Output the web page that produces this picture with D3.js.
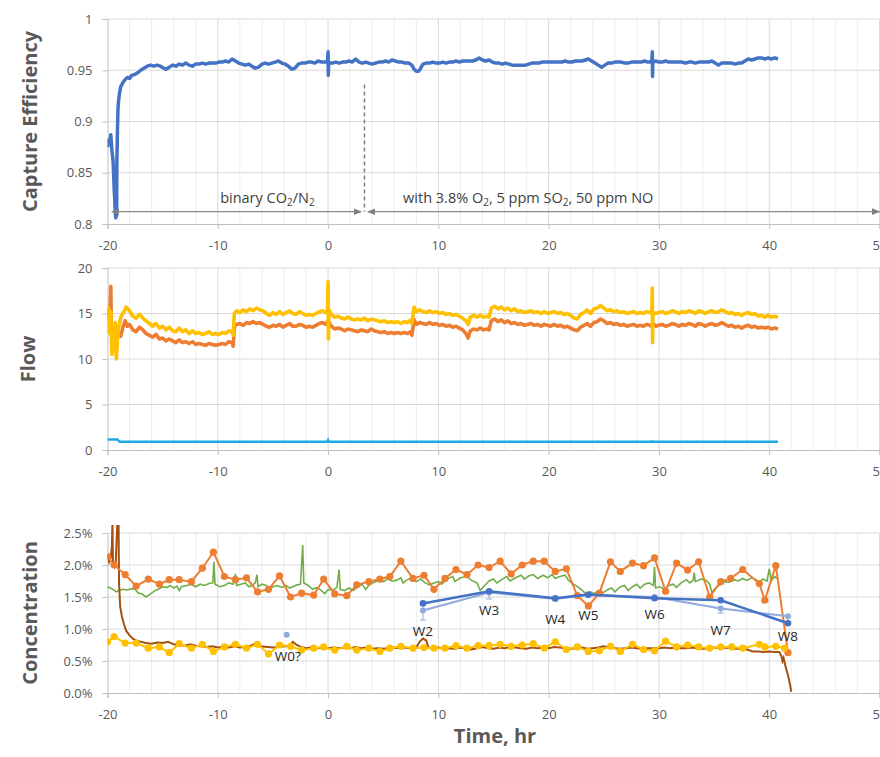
<!DOCTYPE html>
<html><head><meta charset="utf-8">
<script src="https://cdn.jsdelivr.net/npm/d3@7"></script>
<style>
html,body{margin:0;padding:0;background:#fff;}
text{font-family:"Open Sans","Noto Sans",sans-serif;}
</style></head>
<body>
<svg id="chart" width="880" height="757"></svg>
<script>
// ---------------- DATA ----------------
const xTicks = [-20, -10, 0, 10, 20, 30, 40, 50];
const ceTicks = [0.8, 0.85, 0.9, 0.95, 1];
const flowTicks = [0, 5, 10, 15, 20];
const concTicks = [0, 0.005, 0.01, 0.015, 0.02, 0.025];

// Capture efficiency [time hr, value]
const captureEff = [[-20,0.875],[-19.9,0.882],[-19.8,0.878],[-19.7,0.887],[-19.6,0.872],[-19.5,0.862],[-19.45,0.85],[-19.4,0.835],[-19.35,0.826],[-19.3,0.812],[-19.25,0.806],[-19.2,0.82],[-19.17,0.808],[-19.15,0.86],[-19.1,0.89],[-19.05,0.912],[-19.0,0.92],[-18.9,0.928],[-18.8,0.934],[-18.6,0.938],[-18.4,0.941],[-18.2,0.943],[-18,0.942],[-17.8,0.945],[-17.5,0.946],[-17.2,0.948],[-17,0.950],[-16.7,0.952],[-16.4,0.954],[-16.1,0.955],[-15.8,0.954],[-15.5,0.955],[-15.2,0.954],[-14.9,0.952],[-14.7,0.951],[-14.4,0.953],[-14.1,0.955],[-13.8,0.954],[-13.5,0.956],[-13.2,0.955],[-12.9,0.957],[-12.6,0.955],[-12.3,0.954],[-12,0.956],[-11.7,0.956],[-11.4,0.957],[-11.1,0.956],[-10.8,0.957],[-10.5,0.957],[-10.2,0.957],[-9.9,0.958],[-9.6,0.958],[-9.3,0.959],[-9.0,0.958],[-8.7,0.961],[-8.4,0.959],[-8.1,0.957],[-7.8,0.956],[-7.5,0.955],[-7.2,0.956],[-6.9,0.954],[-6.6,0.952],[-6.3,0.953],[-6.0,0.956],[-5.7,0.957],[-5.4,0.956],[-5.1,0.957],[-4.8,0.958],[-4.5,0.959],[-4.2,0.957],[-3.9,0.956],[-3.6,0.954],[-3.3,0.951],[-3.0,0.952],[-2.7,0.956],[-2.4,0.957],[-2.1,0.957],[-1.8,0.958],[-1.5,0.958],[-1.2,0.957],[-0.9,0.959],[-0.6,0.958],[-0.3,0.958],[-0.05,0.958],[0,0.968],[0.02,0.945],[0.05,0.957],[0.4,0.957],[0.7,0.958],[1.0,0.957],[1.3,0.958],[1.6,0.958],[1.9,0.959],[2.2,0.958],[2.5,0.961],[2.8,0.958],[3.1,0.957],[3.4,0.958],[3.7,0.957],[4.0,0.956],[4.3,0.957],[4.6,0.958],[4.9,0.958],[5.2,0.959],[5.5,0.958],[5.8,0.960],[6.1,0.959],[6.4,0.958],[6.7,0.958],[7.0,0.957],[7.3,0.957],[7.6,0.955],[7.8,0.951],[8.0,0.949],[8.2,0.949],[8.4,0.952],[8.6,0.956],[8.9,0.957],[9.2,0.957],[9.5,0.958],[9.8,0.957],[10.1,0.957],[10.4,0.958],[10.7,0.957],[11.0,0.958],[11.3,0.958],[11.6,0.959],[11.9,0.958],[12.2,0.959],[12.5,0.959],[12.8,0.959],[13.1,0.959],[13.4,0.960],[13.7,0.962],[14.0,0.960],[14.3,0.959],[14.6,0.960],[14.9,0.958],[15.2,0.957],[15.5,0.957],[15.8,0.956],[16.1,0.957],[16.4,0.956],[16.7,0.955],[17.0,0.955],[17.3,0.955],[17.6,0.955],[17.9,0.955],[18.2,0.956],[18.5,0.957],[18.8,0.957],[19.1,0.957],[19.4,0.958],[19.7,0.958],[20.0,0.958],[20.3,0.958],[20.6,0.958],[20.9,0.958],[21.2,0.958],[21.5,0.959],[21.8,0.958],[22.1,0.958],[22.4,0.959],[22.7,0.959],[23.0,0.959],[23.3,0.960],[23.6,0.961],[23.9,0.959],[24.2,0.957],[24.5,0.955],[24.8,0.953],[25.1,0.955],[25.4,0.957],[25.7,0.957],[26.0,0.958],[26.3,0.958],[26.6,0.958],[26.9,0.957],[27.2,0.957],[27.5,0.958],[27.8,0.958],[28.1,0.958],[28.4,0.958],[28.7,0.959],[29.0,0.958],[29.35,0.958],[29.4,0.968],[29.42,0.944],[29.45,0.958],[29.7,0.959],[30.0,0.958],[30.3,0.958],[30.6,0.959],[30.9,0.958],[31.2,0.958],[31.5,0.958],[31.8,0.958],[32.1,0.958],[32.4,0.957],[32.7,0.958],[33.0,0.958],[33.3,0.957],[33.6,0.958],[33.9,0.958],[34.2,0.958],[34.5,0.958],[34.8,0.959],[35.1,0.957],[35.4,0.955],[35.7,0.957],[36.0,0.957],[36.3,0.957],[36.6,0.957],[36.9,0.956],[37.2,0.957],[37.5,0.957],[37.8,0.959],[38.1,0.961],[38.4,0.960],[38.7,0.961],[39.0,0.962],[39.3,0.962],[39.6,0.961],[39.9,0.962],[40.2,0.961],[40.5,0.962],[40.8,0.961]];

// Flow series
const flowOrange = [[-20,14.5],[-19.9,15.5],[-19.8,14.2],[-19.7,18.0],[-19.65,13],[-19.5,12.5],[-19.3,13.5],[-19.2,11.8],[-19.0,13.0],[-18.8,12.5],[-18.6,13.5],[-18.4,14.2],[-18.2,13.6],[-18.0,13.8],[-17.7,13.2],[-17.4,13.0],[-17.1,13.5],[-16.8,13.2],[-16.5,12.8],[-16.2,12.6],[-15.9,12.4],[-15.6,12.7],[-15.3,12.2],[-15.0,12.3],[-14.7,12.0],[-14.4,12.2],[-14.1,12.0],[-13.8,11.8],[-13.5,12.1],[-13.2,11.8],[-12.9,11.9],[-12.6,11.7],[-12.3,11.9],[-12.0,11.6],[-11.7,11.7],[-11.4,11.6],[-11.1,11.5],[-10.8,11.7],[-10.5,11.6],[-10.2,11.5],[-9.9,11.6],[-9.6,11.7],[-9.3,11.6],[-9.0,11.9],[-8.7,11.8],[-8.6,11.4],[-8.5,13.5],[-8.3,13.8],[-8.0,13.9],[-7.7,13.7],[-7.4,14.0],[-7.1,13.9],[-6.8,14.1],[-6.5,13.9],[-6.2,14.0],[-5.9,13.8],[-5.6,13.6],[-5.3,13.5],[-5.0,13.7],[-4.7,13.6],[-4.4,13.8],[-4.1,13.5],[-3.8,13.7],[-3.5,13.9],[-3.2,13.6],[-2.9,13.6],[-2.6,13.8],[-2.3,13.7],[-2.0,13.5],[-1.7,13.6],[-1.4,13.5],[-1.1,13.7],[-0.8,13.9],[-0.5,14.0],[-0.2,13.8],[0,14.2],[0.3,13.6],[0.6,13.3],[0.9,13.4],[1.2,13.3],[1.5,13.1],[1.8,13.3],[2.1,13.2],[2.4,13.1],[2.7,13.0],[3.0,13.2],[3.3,13.1],[3.6,13.0],[3.9,13.3],[4.2,13.1],[4.5,13.0],[4.8,12.9],[5.1,13.0],[5.4,12.8],[5.7,12.9],[6.0,12.8],[6.3,12.9],[6.6,12.8],[6.9,12.9],[7.2,12.8],[7.5,13.0],[7.6,12.6],[7.8,14.3],[8.0,13.8],[8.3,14.0],[8.6,13.9],[8.9,13.8],[9.2,14.0],[9.5,13.8],[9.8,13.9],[10.1,13.7],[10.4,13.8],[10.7,13.6],[11.0,13.7],[11.3,13.5],[11.6,13.6],[11.9,13.4],[12.2,13.2],[12.5,12.8],[12.7,12.3],[12.9,13.1],[13.2,13.3],[13.5,13.2],[13.8,13.4],[14.1,13.2],[14.4,13.3],[14.6,13.2],[14.8,14.2],[15.1,14.4],[15.4,14.1],[15.7,14.3],[16.0,14.0],[16.3,14.2],[16.6,13.9],[16.9,14.0],[17.2,13.8],[17.5,13.9],[17.8,13.7],[18.1,13.8],[18.4,13.9],[18.7,13.7],[19.0,13.8],[19.3,13.6],[19.6,13.8],[19.9,13.7],[20.2,13.6],[20.5,13.8],[20.8,13.6],[21.1,13.7],[21.4,13.5],[21.7,13.6],[22.0,13.4],[22.3,13.2],[22.6,13.1],[22.9,13.5],[23.2,13.7],[23.5,13.9],[23.8,13.6],[24.1,14.0],[24.4,14.1],[24.7,14.4],[25.0,14.2],[25.3,13.9],[25.6,14.0],[25.9,13.8],[26.2,13.9],[26.5,13.7],[26.8,13.8],[27.1,13.6],[27.4,13.7],[27.7,13.8],[28.0,13.6],[28.3,13.7],[28.6,13.6],[28.9,13.8],[29.2,13.7],[29.4,13.5],[29.5,13.9],[29.7,13.6],[30.0,13.7],[30.3,13.8],[30.6,13.6],[30.9,13.7],[31.2,13.9],[31.5,13.8],[31.8,13.6],[32.1,13.8],[32.4,13.7],[32.7,13.9],[33.0,13.8],[33.3,13.6],[33.6,13.9],[33.9,13.8],[34.2,13.6],[34.5,13.8],[34.8,13.9],[35.1,13.7],[35.4,13.8],[35.7,14.0],[36.0,13.8],[36.3,13.6],[36.6,13.7],[36.9,13.5],[37.2,13.6],[37.5,13.4],[37.8,13.6],[38.1,13.7],[38.4,13.5],[38.7,13.6],[39.0,13.4],[39.3,13.5],[39.6,13.4],[39.9,13.5],[40.2,13.3],[40.5,13.4],[40.8,13.3]];

const flowYellow = [[-20,13.0],[-19.9,15.6],[-19.8,12.8],[-19.7,15.2],[-19.6,10.5],[-19.5,12.2],[-19.4,11.0],[-19.3,14.0],[-19.2,10.0],[-19.1,12.0],[-19.0,13.4],[-18.8,14.6],[-18.5,15.2],[-18.3,15.7],[-18.0,15.3],[-17.7,14.7],[-17.4,14.5],[-17.1,14.9],[-16.8,14.5],[-16.5,14.2],[-16.2,13.9],[-15.9,13.6],[-15.6,13.9],[-15.3,13.4],[-15.0,13.6],[-14.7,13.2],[-14.4,13.5],[-14.1,13.1],[-13.8,13.0],[-13.5,13.4],[-13.2,13.0],[-12.9,13.2],[-12.6,12.8],[-12.3,13.1],[-12.0,12.8],[-11.7,12.9],[-11.4,12.7],[-11.1,12.8],[-10.8,13.0],[-10.5,12.7],[-10.2,12.8],[-9.9,12.7],[-9.6,12.9],[-9.3,12.8],[-9.0,13.1],[-8.7,13.0],[-8.6,12.6],[-8.5,15.0],[-8.3,15.3],[-8.0,15.1],[-7.7,15.4],[-7.4,15.2],[-7.1,15.5],[-6.8,15.3],[-6.5,15.6],[-6.2,15.4],[-5.9,15.3],[-5.6,15.0],[-5.3,14.8],[-5.0,15.1],[-4.7,14.9],[-4.4,15.2],[-4.1,14.9],[-3.8,15.1],[-3.5,15.3],[-3.2,15.0],[-2.9,14.9],[-2.6,15.2],[-2.3,15.0],[-2.0,14.8],[-1.7,14.9],[-1.4,14.8],[-1.1,15.0],[-0.8,15.2],[-0.5,15.3],[-0.2,15.1],[-0.05,15.2],[0,18.5],[0.03,12.2],[0.08,15.4],[0.3,14.9],[0.6,14.6],[0.9,14.7],[1.2,14.5],[1.5,14.4],[1.8,14.6],[2.1,14.4],[2.4,14.3],[2.7,14.4],[3.0,14.3],[3.3,14.5],[3.6,14.2],[3.9,14.4],[4.2,14.3],[4.5,14.2],[4.8,14.1],[5.1,14.2],[5.4,14.0],[5.7,14.1],[6.0,14.0],[6.3,14.1],[6.6,13.9],[6.9,14.1],[7.2,14.0],[7.5,14.3],[7.6,13.9],[7.8,15.7],[8.0,15.2],[8.3,15.4],[8.6,15.2],[8.9,15.1],[9.2,15.3],[9.5,15.1],[9.8,15.2],[10.1,15.0],[10.4,15.1],[10.7,14.9],[11.0,15.0],[11.3,14.8],[11.6,14.9],[11.9,14.7],[12.2,14.5],[12.5,14.2],[12.7,13.8],[12.9,14.6],[13.2,14.8],[13.5,14.6],[13.8,14.8],[14.1,14.6],[14.4,14.7],[14.6,14.6],[14.8,15.6],[15.1,15.8],[15.4,15.5],[15.7,15.7],[16.0,15.4],[16.3,15.6],[16.6,15.3],[16.9,15.5],[17.2,15.2],[17.5,15.3],[17.8,15.1],[18.1,15.2],[18.4,15.3],[18.7,15.1],[19.0,15.2],[19.3,15.0],[19.6,15.2],[19.9,15.0],[20.2,15.1],[20.5,15.2],[20.8,15.0],[21.1,15.1],[21.4,14.9],[21.7,15.0],[22.0,14.8],[22.3,14.5],[22.6,14.4],[22.9,14.9],[23.2,15.1],[23.5,15.4],[23.8,15.0],[24.1,15.5],[24.4,15.6],[24.7,15.9],[25.0,15.6],[25.3,15.3],[25.6,15.4],[25.9,15.2],[26.2,15.3],[26.5,15.1],[26.8,15.2],[27.1,15.0],[27.4,15.1],[27.7,15.2],[28.0,15.0],[28.3,15.1],[28.6,15.0],[28.9,15.2],[29.2,15.1],[29.35,15.0],[29.4,17.8],[29.42,11.8],[29.45,15.1],[29.7,15.0],[30.0,15.1],[30.3,15.2],[30.6,15.0],[30.9,15.1],[31.2,15.3],[31.5,15.2],[31.8,15.0],[32.1,15.2],[32.4,15.1],[32.7,15.3],[33.0,15.2],[33.3,15.0],[33.6,15.3],[33.9,15.2],[34.2,15.0],[34.5,15.2],[34.8,15.3],[35.1,15.1],[35.4,15.2],[35.7,15.4],[36.0,15.2],[36.3,15.0],[36.6,15.1],[36.9,14.9],[37.2,15.0],[37.5,14.8],[37.8,15.0],[38.1,15.1],[38.4,14.9],[38.7,15.0],[39.0,14.7],[39.3,14.8],[39.6,14.6],[39.9,14.8],[40.2,14.6],[40.5,14.7],[40.8,14.6]];

const flowBlue = [[-20,1.15],[-19.1,1.15],[-18.9,0.9],[-0.05,0.9],[0,1.05],[0.05,0.9],[29.4,0.9],[29.42,1.05],[29.45,0.9],[40.8,0.9]];

// Concentration series (values in %)
const concGreen = [[-20,1.66],[-19.6,1.63],[-19.2,1.58],[-19.0,1.6],[-18.6,1.62],[-18.2,1.61],[-17.8,1.63],[-17.5,1.62],[-17.2,1.56],[-16.9,1.55],[-16.5,1.5],[-16.1,1.55],[-15.7,1.6],[-15.3,1.63],[-15.0,1.66],[-14.6,1.65],[-14.3,1.68],[-14.0,1.64],[-13.7,1.67],[-13.5,1.6],[-13.3,1.66],[-12.8,1.68],[-12.4,1.7],[-12.0,1.66],[-11.6,1.7],[-11.2,1.68],[-10.8,1.71],[-10.45,1.72],[-10.35,2.05],[-10.25,1.7],[-9.8,1.66],[-9.4,1.68],[-9.0,1.72],[-8.6,1.7],[-8.4,1.86],[-8.3,1.68],[-7.9,1.7],[-7.5,1.72],[-7.2,1.66],[-6.9,1.68],[-6.6,1.72],[-6.45,1.85],[-6.35,1.66],[-6.0,1.7],[-5.6,1.68],[-5.3,1.62],[-5.0,1.66],[-4.6,1.68],[-4.2,1.65],[-3.8,1.68],[-3.5,1.64],[-3.2,1.66],[-2.8,1.69],[-2.5,1.7],[-2.3,2.31],[-2.2,1.72],[-1.8,1.68],[-1.4,1.62],[-1.0,1.65],[-0.6,1.6],[-0.3,1.55],[0,1.62],[0.4,1.6],[0.8,1.65],[1.0,1.93],[1.1,1.62],[1.5,1.6],[1.9,1.64],[2.3,1.6],[2.7,1.66],[3.1,1.7],[3.4,1.62],[3.8,1.7],[4.2,1.73],[4.6,1.76],[5.0,1.74],[5.4,1.78],[5.8,1.75],[6.2,1.76],[6.6,1.8],[6.8,1.72],[7.2,1.77],[7.6,1.8],[8.0,1.74],[8.4,1.78],[8.8,1.72],[9.2,1.69],[9.6,1.72],[10.0,1.74],[10.3,1.7],[10.8,1.78],[11.3,1.82],[11.5,1.74],[12.0,1.8],[12.6,1.82],[13.0,1.76],[13.5,1.72],[13.8,1.6],[14.2,1.68],[14.6,1.75],[15.0,1.78],[15.3,1.72],[15.8,1.78],[16.2,1.82],[16.5,1.75],[17.0,1.8],[17.5,1.84],[17.8,1.78],[18.2,1.83],[18.6,1.85],[19.0,1.79],[19.5,1.84],[19.9,1.8],[20.3,1.85],[20.6,1.79],[21.0,1.82],[21.5,1.84],[21.8,1.76],[22.2,1.71],[22.8,1.64],[23.2,1.58],[23.5,1.5],[23.8,1.58],[24.1,1.55],[24.5,1.6],[24.9,1.56],[25.3,1.61],[25.7,1.64],[26.0,1.58],[26.5,1.66],[26.9,1.68],[27.2,1.6],[27.6,1.66],[28.0,1.7],[28.3,1.64],[28.7,1.7],[29.1,1.72],[29.5,1.68],[29.6,1.97],[29.7,1.64],[30.1,1.66],[30.5,1.62],[30.9,1.68],[31.3,1.7],[31.6,1.65],[32.0,1.72],[32.5,1.77],[32.8,1.72],[33.1,1.76],[33.2,1.88],[33.3,1.74],[33.8,1.78],[34.3,1.76],[34.6,1.7],[34.8,1.57],[35.2,1.65],[35.6,1.7],[36.0,1.74],[36.4,1.73],[36.8,1.77],[37.2,1.75],[37.6,1.79],[38.0,1.76],[38.4,1.8],[38.8,1.77],[39.1,1.72],[39.4,1.78],[39.8,1.75],[40.0,1.94],[40.2,1.76],[40.5,1.82],[40.8,1.78]];

const concBrown = [[-20,2.15],[-19.85,2.05],[-19.7,2.12],[-19.6,2.3],[-19.55,2.7],[-19.5,2.0],[-19.4,1.97],[-19.25,2.05],[-19.1,2.7],[-19.0,2.7],[-18.95,1.7],[-18.85,1.35],[-18.7,1.2],[-18.5,1.07],[-18.3,0.97],[-18.0,0.9],[-17.7,0.85],[-17.4,0.82],[-17.0,0.8],[-16.5,0.78],[-16.0,0.77],[-15.5,0.79],[-15.0,0.78],[-14.5,0.8],[-14.0,0.76],[-13.5,0.75],[-13.0,0.74],[-12.5,0.76],[-12.0,0.74],[-11.5,0.73],[-11.0,0.72],[-10.5,0.73],[-10.0,0.71],[-9.5,0.72],[-9.0,0.71],[-8.5,0.73],[-8.0,0.71],[-7.5,0.72],[-7.0,0.74],[-6.6,0.77],[-6.2,0.73],[-5.5,0.72],[-5.0,0.71],[-4.5,0.72],[-4.0,0.73],[-3.5,0.73],[-3.2,0.8],[-2.9,0.76],[-2.5,0.72],[-2.0,0.7],[-1.5,0.71],[-1.0,0.7],[-0.5,0.71],[0,0.7],[0.5,0.71],[1.0,0.7],[1.5,0.71],[2.0,0.7],[2.5,0.72],[3.0,0.7],[3.5,0.71],[4.0,0.69],[4.5,0.7],[5.0,0.69],[5.5,0.7],[6.0,0.71],[6.5,0.7],[7.0,0.71],[7.5,0.7],[8.0,0.71],[8.3,0.8],[8.6,0.85],[8.9,0.82],[9.1,0.71],[9.5,0.7],[10.0,0.71],[10.5,0.69],[11.0,0.7],[11.5,0.69],[12.0,0.71],[12.5,0.7],[13.0,0.68],[13.5,0.7],[14.0,0.72],[14.5,0.7],[15.0,0.69],[15.5,0.71],[16.0,0.7],[16.5,0.72],[17.0,0.71],[17.5,0.7],[18.0,0.69],[18.5,0.71],[19.0,0.7],[19.5,0.71],[20.0,0.7],[20.5,0.72],[21.0,0.71],[21.5,0.7],[22.0,0.69],[22.5,0.7],[23.0,0.71],[23.5,0.69],[24.0,0.7],[24.5,0.71],[25.0,0.73],[25.5,0.71],[26.0,0.7],[26.5,0.69],[27.0,0.7],[27.5,0.71],[28.0,0.7],[28.5,0.69],[29.0,0.7],[29.5,0.7],[30.0,0.7],[30.5,0.71],[31.0,0.7],[31.5,0.71],[32.0,0.7],[32.5,0.7],[33.0,0.71],[33.5,0.7],[34.0,0.69],[34.5,0.7],[35.0,0.71],[35.5,0.7],[36.0,0.71],[36.5,0.7],[37.0,0.69],[37.5,0.69],[38.0,0.68],[38.5,0.65],[39.0,0.65],[39.5,0.64],[40.0,0.65],[40.5,0.64],[40.9,0.64],[41.1,0.58],[41.2,0.5],[41.3,0.55],[41.5,0.4],[41.7,0.28],[41.9,0.12],[42.0,0.02]];

const concOrange = [[-20,2.13],[-19.4,2.0],[-18.4,1.85],[-17.4,1.67],[-16.3,1.78],[-15.3,1.7],[-14.4,1.77],[-13.5,1.77],[-12.4,1.74],[-11.4,1.95],[-10.4,2.2],[-9.4,1.82],[-8.4,1.77],[-7.4,1.8],[-6.4,1.58],[-5.4,1.62],[-4.4,1.83],[-3.4,1.5],[-2.4,1.56],[-1.3,1.53],[-0.4,1.78],[0.6,1.55],[1.7,1.52],[2.6,1.69],[3.7,1.74],[4.7,1.78],[5.6,1.82],[6.6,2.06],[7.7,1.79],[8.7,1.84],[9.6,1.62],[10.6,1.79],[11.6,1.93],[12.6,1.85],[13.6,2.0],[14.6,1.96],[15.6,2.06],[16.6,1.86],[17.6,2.0],[18.6,2.06],[19.6,2.06],[20.6,1.9],[21.6,1.94],[22.6,1.52],[23.6,1.36],[24.6,1.56],[25.6,2.05],[26.5,1.9],[27.6,2.03],[28.6,1.99],[29.6,2.11],[30.6,1.59],[31.6,2.03],[32.6,1.92],[33.6,2.05],[34.6,1.5],[35.6,1.74],[36.5,1.79],[37.6,1.93],[39.1,1.71],[39.6,1.45],[40.6,1.99],[41.7,0.63]];

const concYellow = [[-20,0.8],[-19.4,0.88],[-18.4,0.78],[-17.4,0.78],[-16.3,0.7],[-15.3,0.72],[-14.4,0.63],[-13.5,0.77],[-12.4,0.7],[-11.4,0.76],[-10.4,0.65],[-9.4,0.72],[-8.4,0.76],[-7.4,0.7],[-6.4,0.76],[-5.4,0.61],[-4.4,0.75],[-3.4,0.73],[-2.4,0.67],[-1.3,0.7],[-0.4,0.72],[0.6,0.67],[1.7,0.73],[2.6,0.67],[3.7,0.7],[4.7,0.65],[5.6,0.7],[6.6,0.73],[7.7,0.7],[8.7,0.71],[9.6,0.7],[10.6,0.7],[11.6,0.74],[12.6,0.7],[13.6,0.74],[14.6,0.74],[15.6,0.76],[16.6,0.73],[17.6,0.75],[18.6,0.77],[19.6,0.7],[20.6,0.8],[21.6,0.68],[22.6,0.72],[23.6,0.65],[24.6,0.66],[25.6,0.73],[26.5,0.65],[27.6,0.76],[28.6,0.68],[29.6,0.66],[30.6,0.81],[31.6,0.72],[32.6,0.75],[33.6,0.72],[34.6,0.7],[35.6,0.72],[36.6,0.72],[37.6,0.7],[39.1,0.76],[39.6,0.72],[40.6,0.73],[41.4,0.7]];

// Sampling points W2..W8 (values in %)
const wNames = ["W2","W3","W4","W5","W6","W7","W8"];
const wTime = [8.6, 14.6, 20.6, 23.6, 29.6, 35.6, 41.7];
const wDark = [1.40, 1.59, 1.48, 1.54, 1.48, 1.45, 1.09];
const wLight = [1.29, 1.57, 1.47, 1.53, 1.50, 1.32, 1.20];
const wLightErr = [0.15, 0.10, 0.03, 0.03, 0.05, 0.07, 0.08];
const wLabelVal = [0.94, 1.27, 1.13, 1.19, 1.22, 0.97, 0.87];
const w0Point = [-3.75, 0.91];
const w0LabelVal = 0.56;

// ---------------- DRAW ----------------
const svg = d3.select("#chart");
const x = d3.scaleLinear().domain([-20, 50]).range([107.5, 879.5]);
const fmtNum = d => String(d);
const fmtPct = d3.format(".1%");

const GRID_MAJOR = "#d9d9d9", GRID_MINOR = "#eeeeee", AXIS = "#bfbfbf", TXT = "#595959";

const defs = svg.append("defs");
defs.append("marker").attr("id","arrowEnd").attr("viewBox","0 0 10 10").attr("refX",9).attr("refY",5)
  .attr("markerWidth",7).attr("markerHeight",7).attr("orient","auto")
  .append("path").attr("d","M0,1 L10,5 L0,9 Z").attr("fill","#808080");
defs.append("marker").attr("id","arrowStart").attr("viewBox","0 0 10 10").attr("refX",1).attr("refY",5)
  .attr("markerWidth",7).attr("markerHeight",7).attr("orient","auto")
  .append("path").attr("d","M10,1 L0,5 L10,9 Z").attr("fill","#808080");

function panel(id, top, bottom, domain, ticks, fmt, title, titleX) {
  const y = d3.scaleLinear().domain(domain).range([bottom, top]);
  const g = svg.append("g");
  defs.append("clipPath").attr("id", "clip-" + id).append("rect")
    .attr("x", x(-20)).attr("y", top - 8).attr("width", x(50) - x(-20)).attr("height", bottom - top + 8);
  const minor = d3.range(-18, 50, 2).filter(v => v % 10 !== 0);
  g.selectAll(".vmin").data(minor).join("line")
    .attr("x1", d => x(d)).attr("x2", d => x(d)).attr("y1", top).attr("y2", bottom)
    .attr("stroke", GRID_MINOR).attr("stroke-width", 1);
  g.selectAll(".vmaj").data(xTicks.slice(1)).join("line")
    .attr("x1", d => x(d)).attr("x2", d => x(d)).attr("y1", top).attr("y2", bottom)
    .attr("stroke", GRID_MAJOR).attr("stroke-width", 1);
  g.selectAll(".hmaj").data(ticks.slice(1)).join("line")
    .attr("x1", x(-20)).attr("x2", x(50)).attr("y1", d => y(d)).attr("y2", d => y(d))
    .attr("stroke", GRID_MAJOR).attr("stroke-width", 1);
  const ax = g.append("g").attr("transform", `translate(0,${bottom})`)
    .call(d3.axisBottom(x).tickValues(xTicks).tickFormat(fmtNum).tickSize(5).tickPadding(12));
  const ay = g.append("g").attr("transform", `translate(${x(-20)},0)`)
    .call(d3.axisLeft(y).tickValues(ticks).tickFormat(fmt).tickSize(5).tickPadding(10));
  [ax, ay].forEach(a => {
    a.select(".domain").attr("stroke", AXIS);
    a.selectAll(".tick line").attr("stroke", AXIS);
    a.selectAll(".tick text").attr("fill", TXT).style("font-size", "13px").style("font-family", '"Open Sans","Noto Sans",sans-serif');
  });
  svg.append("text").attr("transform", `translate(${titleX},${(top + bottom) / 2}) rotate(-90)`)
    .attr("text-anchor", "middle").attr("dominant-baseline", "middle")
    .attr("fill", TXT).style("font-size", "20px").style("font-weight", "bold").text(title);
  const plot = svg.append("g").attr("clip-path", `url(#clip-${id})`);
  return {y, plot};
}

// --- Top panel: capture efficiency
const p1 = panel("ce", 19, 224, [0.8, 1], ceTicks, fmtNum, "Capture Efficiency", 32);
const line1 = d3.line().x(d => x(d[0])).y(d => p1.y(d[1]));
p1.plot.append("path").datum(captureEff).attr("d", line1)
  .attr("fill", "none").attr("stroke", "#4472C4").attr("stroke-width", 3.5).attr("stroke-linejoin", "round");

// annotations
const arrowY = p1.y(0.812);
svg.append("line").attr("x1", x(3.3)).attr("x2", x(3.3)).attr("y1", p1.y(0.936)).attr("y2", arrowY)
  .attr("stroke", "#7f7f7f").attr("stroke-width", 1.5).attr("stroke-dasharray", "4,3");
svg.append("line").attr("x1", x(-19.6)).attr("x2", x(3.0)).attr("y1", arrowY).attr("y2", arrowY)
  .attr("stroke", "#8c8c8c").attr("stroke-width", 1.2)
  .attr("marker-start", "url(#arrowStart)").attr("marker-end", "url(#arrowEnd)");
svg.append("line").attr("x1", x(3.6)).attr("x2", x(50)).attr("y1", arrowY).attr("y2", arrowY)
  .attr("stroke", "#8c8c8c").attr("stroke-width", 1.2)
  .attr("marker-start", "url(#arrowStart)").attr("marker-end", "url(#arrowEnd)");

function subText(parts, tx, ty, anchor) {
  const t = svg.append("text").attr("x", tx).attr("y", ty).attr("text-anchor", anchor)
    .attr("fill", "#404040").style("font-size", "14.5px");
  let shifted = false;
  parts.forEach(p => {
    const ts = t.append("tspan").text(p.t);
    if (p.sub) { ts.attr("dy", 3).style("font-size", "10px"); shifted = true; }
    else if (shifted) { ts.attr("dy", -3); shifted = false; }
  });
  return t;
}
subText([{t:"binary CO"},{t:"2",sub:true},{t:"/N"},{t:"2",sub:true}], x(-5.5), arrowY - 9, "middle");
subText([{t:"with 3.8% O"},{t:"2",sub:true},{t:", 5 ppm SO"},{t:"2",sub:true},{t:", 50 ppm NO"}], x(6.8), arrowY - 9, "start");

// --- Middle panel: flow
const p2 = panel("flow", 268, 450, [0, 20], flowTicks, fmtNum, "Flow", 30);
const line2 = d3.line().x(d => x(d[0])).y(d => p2.y(d[1]));
p2.plot.append("path").datum(flowOrange).attr("d", line2)
  .attr("fill", "none").attr("stroke", "#ED7D31").attr("stroke-width", 3.6).attr("stroke-linejoin", "round");
p2.plot.append("path").datum(flowYellow).attr("d", line2)
  .attr("fill", "none").attr("stroke", "#FFC000").attr("stroke-width", 3.6).attr("stroke-linejoin", "round");
p2.plot.append("path").datum(flowBlue).attr("d", line2)
  .attr("fill", "none").attr("stroke", "#1CA9E6").attr("stroke-width", 2.5);

// --- Bottom panel: concentration
const p3 = panel("conc", 533, 693, [0, 0.025], concTicks, fmtPct, "Concentration", 32);
const line3 = d3.line().x(d => x(d[0])).y(d => p3.y(d[1] / 100));
p3.plot.append("path").datum(concGreen).attr("d", line3)
  .attr("fill", "none").attr("stroke", "#70AD47").attr("stroke-width", 1.6);
p3.plot.append("path").datum(concBrown).attr("d", line3)
  .attr("fill", "none").attr("stroke", "#A5500F").attr("stroke-width", 2);
p3.plot.append("path").datum(concOrange).attr("d", line3)
  .attr("fill", "none").attr("stroke", "#ED7D31").attr("stroke-width", 2);
p3.plot.selectAll(".om").data(concOrange).join("circle")
  .attr("cx", d => x(d[0])).attr("cy", d => p3.y(d[1] / 100)).attr("r", 3.6).attr("fill", "#ED7D31");
p3.plot.append("path").datum(concYellow).attr("d", line3)
  .attr("fill", "none").attr("stroke", "#FFC000").attr("stroke-width", 2);
p3.plot.selectAll(".ym").data(concYellow).join("circle")
  .attr("cx", d => x(d[0])).attr("cy", d => p3.y(d[1] / 100)).attr("r", 3.6).attr("fill", "#FFC000");

// W samples
const wData = wNames.map((n, i) => ({n, t: wTime[i], dark: wDark[i], light: wLight[i], err: wLightErr[i], lab: wLabelVal[i]}));
const ly = v => p3.y(v / 100);
p3.plot.selectAll(".err").data(wData).join("g").each(function(d) {
  const g = d3.select(this);
  g.append("line").attr("x1", x(d.t)).attr("x2", x(d.t)).attr("y1", ly(d.light - d.err)).attr("y2", ly(d.light + d.err * 0.3))
    .attr("stroke", "#8FAADC").attr("stroke-width", 1);
  g.append("line").attr("x1", x(d.t) - 3).attr("x2", x(d.t) + 3).attr("y1", ly(d.light - d.err)).attr("y2", ly(d.light - d.err))
    .attr("stroke", "#8FAADC").attr("stroke-width", 1);
});
p3.plot.append("path").datum(wData).attr("d", d3.line().x(d => x(d.t)).y(d => ly(d.light)))
  .attr("fill", "none").attr("stroke", "#8FAADC").attr("stroke-width", 2);
p3.plot.selectAll(".lm").data(wData).join("circle")
  .attr("cx", d => x(d.t)).attr("cy", d => ly(d.light)).attr("r", 3).attr("fill", "#8FAADC");
p3.plot.append("path").datum(wData).attr("d", d3.line().x(d => x(d.t)).y(d => ly(d.dark)))
  .attr("fill", "none").attr("stroke", "#4472C4").attr("stroke-width", 2.5);
p3.plot.selectAll(".dm").data(wData).join("circle")
  .attr("cx", d => x(d.t)).attr("cy", d => ly(d.dark)).attr("r", 3.3).attr("fill", "#4472C4");
p3.plot.append("circle").attr("cx", x(w0Point[0])).attr("cy", ly(w0Point[1])).attr("r", 3).attr("fill", "#8FAADC");

svg.selectAll(".wl").data(wData).join("text")
  .attr("x", d => x(d.t)).attr("y", d => ly(d.lab)).attr("text-anchor", "middle").attr("dominant-baseline", "middle")
  .attr("fill", "#262626").style("font-size", "13.5px").text(d => d.n);
svg.append("text").attr("x", x(w0Point[0]) + 1).attr("y", ly(w0LabelVal)).attr("text-anchor", "middle")
  .attr("dominant-baseline", "middle").attr("fill", "#262626").style("font-size", "13.5px").text("W0?");

// x-axis title
svg.append("text").attr("x", 495).attr("y", 738).attr("text-anchor", "middle").attr("dominant-baseline", "middle")
  .attr("fill", TXT).style("font-size", "20px").style("font-weight", "bold").text("Time, hr");
</script>
</body></html>
